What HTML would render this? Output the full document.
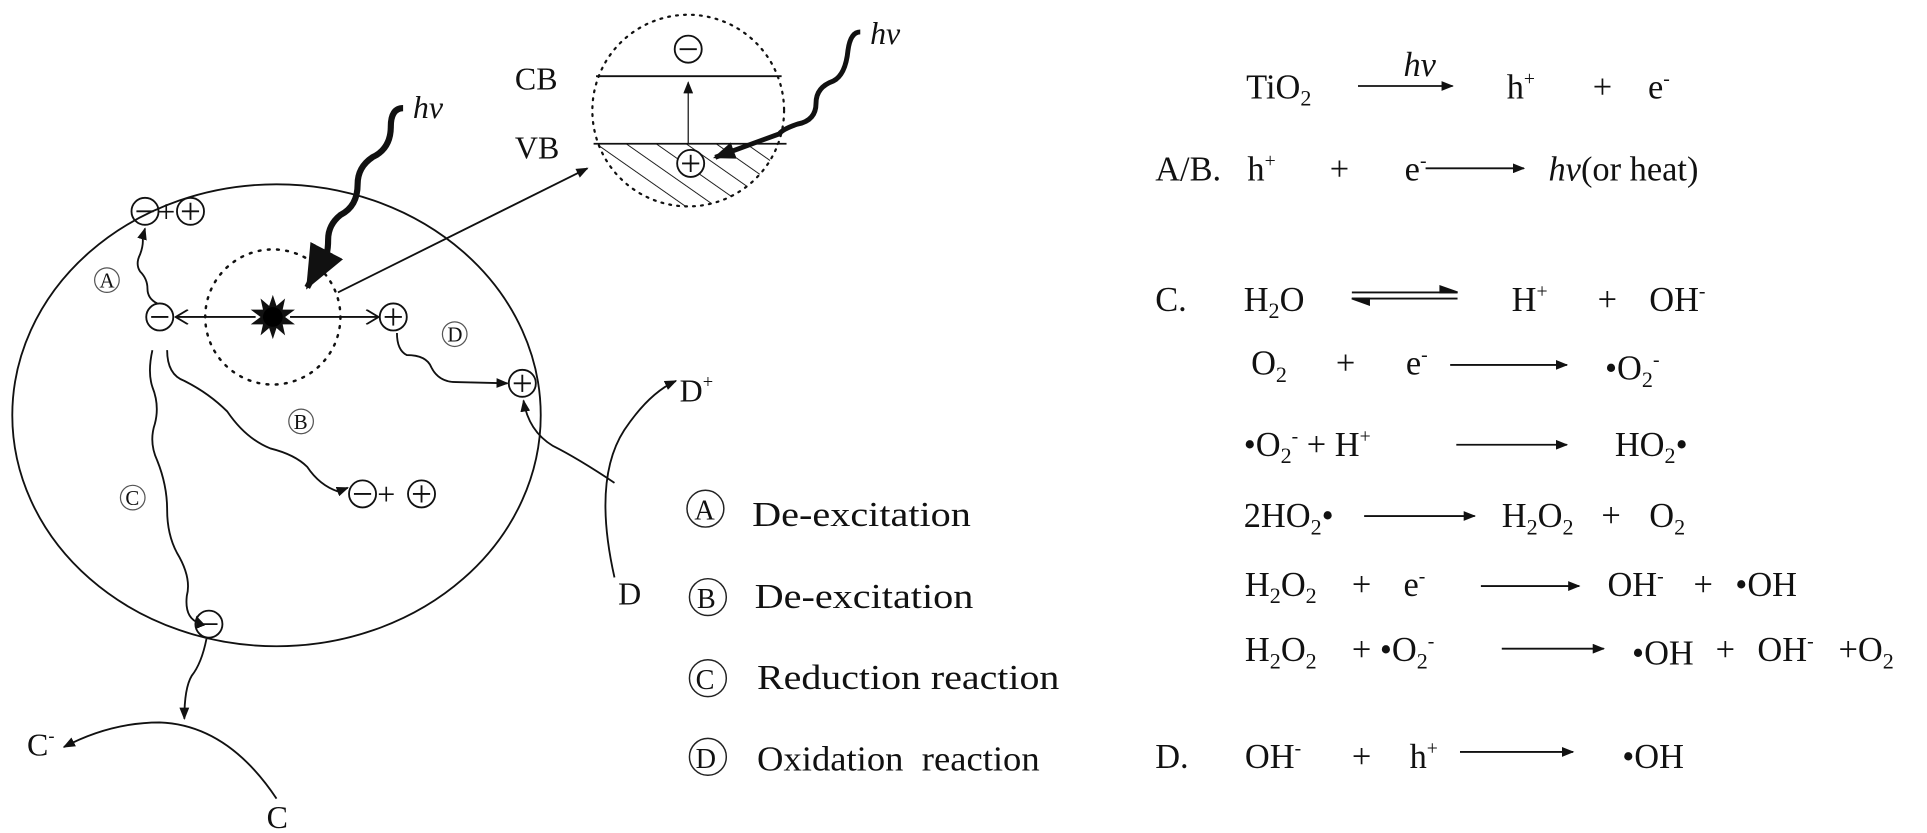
<!DOCTYPE html>
<html><head><meta charset="utf-8"><style>
html,body{margin:0;padding:0;background:#fff;}
svg{display:block}
text{font-family:"Liberation Serif",serif;fill:#111;}
</style></head><body>
<svg width="1927" height="833" viewBox="0 0 1568 678" preserveAspectRatio="none" xmlns="http://www.w3.org/2000/svg">
<defs>
<marker id="a" markerWidth="10" markerHeight="8" refX="9" refY="4" orient="auto" markerUnits="userSpaceOnUse"><path d="M0,0 L10,4 L0,8 Z" fill="#111"/></marker>
<marker id="o" markerWidth="12" markerHeight="12" refX="11" refY="6" orient="auto" markerUnits="userSpaceOnUse"><path d="M1,0 L11,6 L1,12" stroke="#111" stroke-width="1.5" fill="none"/></marker>
<marker id="big" markerWidth="36" markerHeight="30" refX="34" refY="15" orient="auto" markerUnits="userSpaceOnUse"><path d="M0,0 L36,15 L0,30 Z" fill="#111"/></marker>
<marker id="med" markerWidth="18" markerHeight="14" refX="16" refY="7" orient="auto" markerUnits="userSpaceOnUse"><path d="M0,0 L18,7 L0,14 Z" fill="#111"/></marker>
<pattern id="h" width="14" height="14" patternUnits="userSpaceOnUse" patternTransform="rotate(-55)"><line x1="0" y1="0" x2="0" y2="14" stroke="#111" stroke-width="1.5"/></pattern>
<clipPath id="ic"><circle cx="560" cy="90" r="78"/></clipPath>
</defs>
<g fill="none" stroke="#111" stroke-width="1.5">
<ellipse cx="225" cy="338" rx="215" ry="188"/>
<circle cx="222" cy="258" r="55" stroke-dasharray="1.5,6" stroke-linecap="round" stroke-width="2"/>
<circle cx="560" cy="90" r="78" stroke-dasharray="1.5,5" stroke-linecap="round" stroke-width="1.8"/>
<rect x="470" y="117" width="190" height="60" fill="url(#h)" stroke="none" clip-path="url(#ic)"/>
<line x1="485" y1="62" x2="636" y2="62"/>
<line x1="483" y1="117" x2="640" y2="117"/>
<line x1="560" y1="117" x2="560" y2="67" marker-end="url(#a)" stroke-width="1"/>
<circle cx="560" cy="40" r="11" fill="#fff"/><line x1="553" y1="40" x2="567" y2="40"/>
<circle cx="562" cy="133" r="11" fill="#fff"/><line x1="555" y1="133" x2="569" y2="133"/><line x1="562" y1="126" x2="562" y2="140"/>
<path d="M700,26 q-8,0 -10,15 q-2,20 -12,25 q-14,5 -14,18 q0,14 -15,17 q-12,4 -15,8 L582,128" stroke-width="4" marker-end="url(#med)"/>
<path d="M328,88 q-10,0 -10,15 q0,18 -15,25 q-12,8 -12,22 q0,18 -14,25 q-10,8 -10,20 q0,18 -8,22 L250,234" stroke-width="5" marker-end="url(#big)"/>
<line x1="275" y1="238" x2="478" y2="137" marker-end="url(#a)"/>
<line x1="208" y1="258" x2="143" y2="258" marker-end="url(#o)"/>
<line x1="236" y1="258" x2="308" y2="258" marker-end="url(#o)"/>
<circle cx="130" cy="258" r="11"/><line x1="123" y1="258" x2="137" y2="258"/>
<circle cx="320" cy="258" r="11"/><line x1="313" y1="258" x2="327" y2="258"/><line x1="320" y1="251" x2="320" y2="265"/>
<circle cx="118" cy="172" r="11"/><line x1="111" y1="172" x2="125" y2="172"/>
<circle cx="155" cy="172" r="11"/><line x1="148" y1="172" x2="162" y2="172"/><line x1="155" y1="165" x2="155" y2="179"/>
<path d="M128,247 q-8,-4 -8,-12 q0,-8 -6,-14 q-4,-6 0,-14 q3,-8 2,-14 L118,186" marker-end="url(#a)"/>
<path d="M323,271 q0,14 8,18 q16,0 20,10 q6,12 20,12 L413,312" marker-end="url(#a)"/>
<circle cx="425" cy="312" r="11"/><line x1="418" y1="312" x2="432" y2="312"/><line x1="425" y1="305" x2="425" y2="319"/>
<path d="M136,285 q0,20 14,25 q20,10 35,25 q15,22 35,30 q20,5 30,15 q10,15 25,20 L283,397" marker-end="url(#a)"/>
<circle cx="295" cy="402" r="11"/><line x1="288" y1="402" x2="302" y2="402"/>
<circle cx="343" cy="402" r="11"/><line x1="336" y1="402" x2="350" y2="402"/><line x1="343" y1="395" x2="343" y2="409"/>
<path d="M124,285 q-4,18 0,30 q6,15 2,30 q-5,15 2,30 q8,20 8,40 q0,20 8,35 q12,20 8,35 q-2,18 10,22 L160,502" marker-end="url(#a)"/>
<circle cx="170" cy="508" r="11"/><line x1="163" y1="508" x2="177" y2="508"/>
<path d="M168,520 q-4,20 -12,30 q-6,10 -6,35" marker-end="url(#a)"/>
<path d="M225,650 q-40,-60 -95,-62 q-40,0 -78,20" marker-end="url(#a)"/>
<path d="M500,470 q-18,-80 8,-120 q20,-30 42,-40" marker-end="url(#a)"/>
<path d="M500,393 q-30,-20 -50,-30 q-20,-12 -24,-37" marker-end="url(#a)"/>
</g>
<polygon points="222,240 225,249 232,243 230,252 240,252 232,258 240,264 230,264 232,273 225,267 222,276 219,267 212,273 214,264 204,264 212,258 204,252 214,252 212,243 219,249" fill="#111"/>
<circle cx="222" cy="258" r="8" fill="#000"/>
<g font-size="26">
<text x="128" y="181">+</text>
<text x="307" y="411">+</text>
<text x="419" y="73">CB</text>
<text x="419" y="129">VB</text>
<text x="708" y="36" font-style="italic">hv</text>
<text x="336" y="96" font-style="italic">hv</text>
<text x="22" y="615">C<tspan font-size="15" dy="-11">-</tspan></text>
<text x="217" y="674">C</text>
<text x="553" y="327">D<tspan font-size="15" dy="-11">+</tspan></text>
<text x="503" y="492">D</text>
</g>
<g>
<circle cx="87" cy="228" r="10" fill="none" stroke="#555" stroke-width="1"/><text x="81" y="234" font-size="17">A</text>
<circle cx="370" cy="272" r="10" fill="none" stroke="#555" stroke-width="1"/><text x="364" y="278" font-size="17">D</text>
<circle cx="245" cy="343" r="10" fill="none" stroke="#555" stroke-width="1"/><text x="239" y="349" font-size="17">B</text>
<circle cx="108" cy="405" r="10" fill="none" stroke="#555" stroke-width="1"/><text x="102" y="411" font-size="17">C</text>
</g>
<g fill="none" stroke="#222" stroke-width="1.2">
<circle cx="574" cy="414" r="15"/><circle cx="576" cy="486" r="15"/><circle cx="576" cy="552" r="15"/><circle cx="576" cy="616" r="15"/>
</g>
<g font-size="28">
<text x="565" y="423" font-size="23">A</text>
<text x="567" y="495" font-size="23">B</text>
<text x="566" y="561" font-size="23">C</text>
<text x="566" y="625" font-size="23">D</text>
<text x="612" y="428" textLength="178" lengthAdjust="spacingAndGlyphs">De-excitation</text>
<text x="614" y="495" textLength="178" lengthAdjust="spacingAndGlyphs">De-excitation</text>
<text x="616" y="561" textLength="246" lengthAdjust="spacingAndGlyphs">Reduction reaction</text>
<text x="616" y="627" textLength="230" lengthAdjust="spacingAndGlyphs">Oxidation&#160; reaction</text>
</g>
<g stroke="#111" stroke-width="1.5" fill="none">
<line x1="1105" y1="70" x2="1182" y2="70" marker-end="url(#a)"/>
<line x1="1160" y1="137" x2="1240" y2="137" marker-end="url(#a)"/>
<line x1="1100" y1="238" x2="1186" y2="238"/><path d="M1186,238 L1172,233 L1172,238 Z" fill="#111"/><line x1="1100" y1="243" x2="1186" y2="243"/><path d="M1100,243 L1114,248 L1114,243 Z" fill="#111"/>
<line x1="1180" y1="297" x2="1275" y2="297" marker-end="url(#a)"/>
<line x1="1185" y1="362" x2="1275" y2="362" marker-end="url(#a)"/>
<line x1="1110" y1="420" x2="1200" y2="420" marker-end="url(#a)"/>
<line x1="1205" y1="477" x2="1285" y2="477" marker-end="url(#a)"/>
<line x1="1222" y1="528" x2="1305" y2="528" marker-end="url(#a)"/>
<line x1="1188" y1="612" x2="1280" y2="612" marker-end="url(#a)"/>
</g>
<g font-size="28">
<text x="1014" y="80">TiO<tspan font-size="18" dy="6">2</tspan></text>
<text x="1142" y="62" font-style="italic">hν</text>
<text x="1226" y="80">h<tspan font-size="16" dy="-11">+</tspan></text>
<text x="1296" y="80">+</text>
<text x="1341" y="80">e<tspan font-size="16" dy="-11">-</tspan></text>
<text x="940" y="147">A/B.</text>
<text x="1015" y="147">h<tspan font-size="16" dy="-11">+</tspan></text>
<text x="1082" y="147">+</text>
<text x="1143" y="147">e<tspan font-size="16" dy="-11">-</tspan></text>
<text x="1260" y="147"><tspan font-style="italic">hν</tspan>(or heat)</text>
<text x="940" y="253">C.</text>
<text x="1012" y="253">H<tspan font-size="18" dy="6">2</tspan><tspan dy="-6">O</tspan></text>
<text x="1230" y="253">H<tspan font-size="16" dy="-11">+</tspan></text>
<text x="1300" y="253">+</text>
<text x="1342" y="253">OH<tspan font-size="16" dy="-11">-</tspan></text>
<text x="1018" y="305">O<tspan font-size="18" dy="6">2</tspan></text>
<text x="1087" y="305">+</text>
<text x="1144" y="305">e<tspan font-size="16" dy="-11">-</tspan></text>
<text x="1306" y="309">•O<tspan font-size="18" dy="6">2</tspan><tspan font-size="16" dy="-17">-</tspan></text>
<text x="1012" y="371">•O<tspan font-size="18" dy="6">2</tspan><tspan font-size="16" dy="-17">-</tspan><tspan dy="11"> + H</tspan><tspan font-size="16" dy="-11">+</tspan></text>
<text x="1314" y="371">HO<tspan font-size="18" dy="6">2</tspan><tspan dy="-6">•</tspan></text>
<text x="1012" y="429">2HO<tspan font-size="18" dy="6">2</tspan><tspan dy="-6">•</tspan></text>
<text x="1222" y="429">H<tspan font-size="18" dy="6">2</tspan><tspan dy="-6">O</tspan><tspan font-size="18" dy="6">2</tspan></text>
<text x="1303" y="429">+</text>
<text x="1342" y="429">O<tspan font-size="18" dy="6">2</tspan></text>
<text x="1013" y="485">H<tspan font-size="18" dy="6">2</tspan><tspan dy="-6">O</tspan><tspan font-size="18" dy="6">2</tspan></text>
<text x="1100" y="485">+</text>
<text x="1142" y="485">e<tspan font-size="16" dy="-11">-</tspan></text>
<text x="1308" y="485">OH<tspan font-size="16" dy="-11">-</tspan></text>
<text x="1378" y="485">+</text>
<text x="1412" y="485">•OH</text>
<text x="1013" y="538">H<tspan font-size="18" dy="6">2</tspan><tspan dy="-6">O</tspan><tspan font-size="18" dy="6">2</tspan></text>
<text x="1100" y="538">+ •O<tspan font-size="18" dy="6">2</tspan><tspan font-size="16" dy="-17">-</tspan></text>
<text x="1328" y="541">•OH</text>
<text x="1396" y="538">+</text>
<text x="1430" y="538">OH<tspan font-size="16" dy="-11">-</tspan></text>
<text x="1496" y="538">+O<tspan font-size="18" dy="6">2</tspan></text>
<text x="940" y="625">D.</text>
<text x="1013" y="625">OH<tspan font-size="16" dy="-11">-</tspan></text>
<text x="1100" y="625">+</text>
<text x="1147" y="625">h<tspan font-size="16" dy="-11">+</tspan></text>
<text x="1320" y="625">•OH</text>
</g>
</svg>
</body></html>
